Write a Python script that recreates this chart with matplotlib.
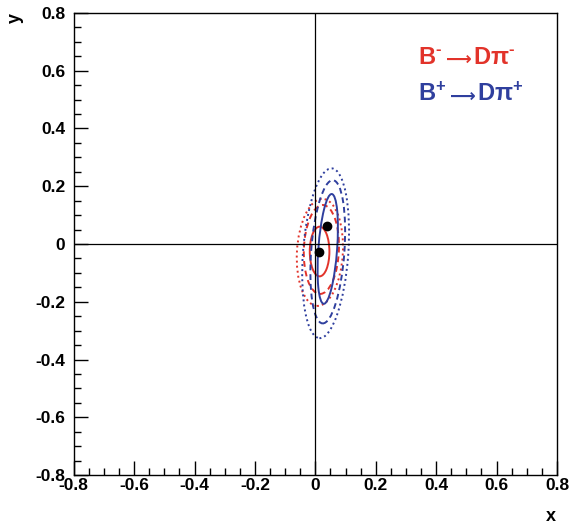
import matplotlib
matplotlib.use('Agg')
import matplotlib.pyplot as plt
from matplotlib.patches import Ellipse
from matplotlib.ticker import MultipleLocator
from matplotlib.offsetbox import TextArea, HPacker, AnchoredOffsetbox

plt.rcParams['font.family'] = ['Liberation Sans', 'DejaVu Sans']
plt.rcParams['font.weight'] = 'bold'
plt.rcParams['mathtext.fontset'] = 'custom'
plt.rcParams['mathtext.rm'] = 'Liberation Sans:bold'
plt.rcParams['mathtext.it'] = 'Liberation Sans:bold'
plt.rcParams['mathtext.bf'] = 'Liberation Sans:bold'

# Central values (x, y)
minus_point = (0.013, -0.027)
plus_point = (0.040, 0.061)

# Contour ellipses: centre x, centre y, width, height, tilt (deg); solid, dashed, dotted
minus_cx = [0.014, 0.020, 0.015]
minus_cy = [-0.026, -0.019, -0.029]
minus_w = [0.065, 0.116, 0.152]
minus_h = [0.172, 0.308, 0.371]
minus_ang = [0, -2, -3]

plus_cx = [0.041, 0.041, 0.034]
plus_cy = [-0.017, -0.027, -0.032]
plus_w = [0.062, 0.110, 0.150]
plus_h = [0.381, 0.497, 0.589]
plus_ang = [-4, -4, -4]

labels = [(r'$\mathrm{B}^{\text{-}}$', r'$\mathrm{D\pi}^{\text{-}}$'),
          (r'$\mathrm{B}^{+}$', r'$\mathrm{D\pi}^{+}$')]

RED = '#e2332a'
BLUE = '#2f3f9e'
styles = ['-', (0, (3, 2)), (0, (1, 1.6))]

fig = plt.figure(figsize=(5.76, 5.27), dpi=100)
ax = fig.add_axes([0.128, 0.0985, 0.839, 0.877])

for cx, cy, w, h, a, ls in zip(minus_cx, minus_cy, minus_w, minus_h, minus_ang, styles):
    ax.add_patch(Ellipse((cx, cy), w, h, angle=a, fill=False, edgecolor=RED,
                         linestyle=ls, linewidth=1.4))
for cx, cy, w, h, a, ls in zip(plus_cx, plus_cy, plus_w, plus_h, plus_ang, styles):
    ax.add_patch(Ellipse((cx, cy), w, h, angle=a, fill=False, edgecolor=BLUE,
                         linestyle=ls, linewidth=1.4))

ax.plot(*minus_point, 'o', color='black', markersize=6, zorder=5)
ax.plot(*plus_point, 'o', color='black', markersize=6, zorder=5)

ax.axhline(0, color='black', linewidth=0.9)
ax.axvline(0, color='black', linewidth=0.9)

ax.set_xlim(-0.8, 0.8)
ax.set_ylim(-0.8, 0.8)
ax.xaxis.set_major_locator(MultipleLocator(0.2))
ax.yaxis.set_major_locator(MultipleLocator(0.2))
ax.xaxis.set_minor_locator(MultipleLocator(0.05))
ax.yaxis.set_minor_locator(MultipleLocator(0.05))
ax.tick_params(which='both', direction='in', top=False, right=False, width=1.0)
ax.tick_params(which='major', length=10, labelsize=12.5)
ax.tick_params(axis='x', which='major', pad=2)
ax.tick_params(axis='y', which='major', pad=6)
ax.tick_params(which='minor', length=5)
fmt = plt.FuncFormatter(lambda v, p: '0' if abs(v) < 1e-9 else f'{v:.1f}')
ax.xaxis.set_major_formatter(fmt)
ax.yaxis.set_major_formatter(fmt)
for lab in ax.get_xticklabels() + ax.get_yticklabels():
    lab.set_fontweight('bold')
for sp in ax.spines.values():
    sp.set_linewidth(1.0)

fig.text(0.957, 0.019, 'x', fontsize=13, fontweight='bold', ha='center', va='center')
fig.text(0.027, 0.966, 'y', fontsize=13, fontweight='bold', ha='center', va='center',
         rotation=90)

# legend-like labels: particle, long arrow, final state
for (left, right), col, ybase in zip(labels, [RED, BLUE], [0.878, 0.798]):
    parts = [
        TextArea(left, textprops=dict(color=col, fontsize=17)),
        TextArea(r'$\longrightarrow$',
                 textprops=dict(color=col, fontsize=13, math_fontfamily='dejavusans')),
        TextArea(right, textprops=dict(color=col, fontsize=17)),
    ]
    box = HPacker(children=parts, align='baseline', pad=0, sep=0)
    anc = AnchoredOffsetbox(loc='lower left', child=box, pad=0, borderpad=0, frameon=False,
                            bbox_to_anchor=(0.712, ybase), bbox_transform=ax.transAxes)
    ax.add_artist(anc)

fig.savefig('out.png', dpi=100)
